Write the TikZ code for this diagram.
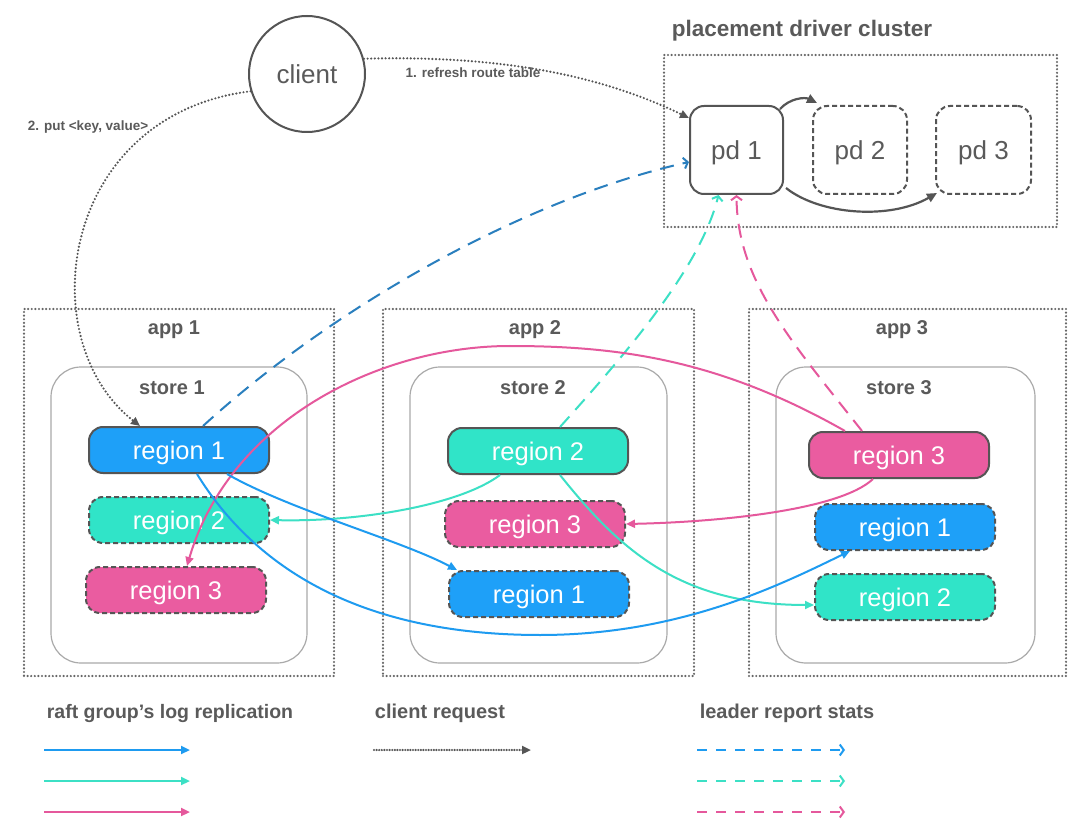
\documentclass[tikz,border=0pt]{standalone}
\usepackage{fontspec}
\setmainfont{Liberation Sans}
\usetikzlibrary{arrows.meta}
\definecolor{tx}{HTML}{5A5A5A}
\definecolor{bd}{HTML}{555555}
\definecolor{dotc}{HTML}{666666}
\definecolor{stc}{HTML}{AAAAAA}
\definecolor{bl}{HTML}{1EA0F8}
\definecolor{tl}{HTML}{30E4C8}
\definecolor{pk}{HTML}{EA5CA0}
\definecolor{blA}{HTML}{1E9BF0}
\definecolor{tlA}{HTML}{3CE0C5}
\definecolor{pkA}{HTML}{E5589C}
\definecolor{dblA}{HTML}{2A7FBE}
\tikzset{
  dotline/.style={line width=2.4pt, dash pattern=on 0pt off 3.6pt, line cap=round},
  dotbox/.style={draw=dotc, dotline, inner sep=0pt},
  storebox/.style={draw=stc, line width=1.2pt, rounded corners=30pt, inner sep=0pt, minimum width=256pt, minimum height=296pt},
  pdbox/.style={draw=bd, line width=2pt, rounded corners=14pt, inner sep=0pt, minimum width=93pt, minimum height=88pt, text=tx, text depth=0pt, font=\fontsize{26}{30}\selectfont},
  region/.style={line width=2pt, rounded corners=14pt, inner sep=0pt, minimum width=180pt, minimum height=46pt, text=white, text depth=0pt, font=\fontsize{25.5}{28}\selectfont},
  leader/.style={region, draw=bd},
  follower/.style={region, draw=bd, dash pattern=on 5pt off 3pt},
  lbl/.style={text=tx, inner sep=0pt, font=\bfseries\fontsize{20}{24}\selectfont},
  small/.style={text=tx, inner sep=0pt, font=\bfseries\fontsize{13.5}{16}\selectfont},
  repl/.style={line width=2pt, -{Triangle[length=9pt,width=8pt]}},
  report/.style={line width=2pt, dash pattern=on 14pt off 9pt, -{Straight Barb[length=4pt,width=11pt,line width=2pt]}},
  req/.style={draw=bd, dotline, -{Triangle[length=9pt,width=8pt]}},
  pdarr/.style={draw=bd, line width=2.2pt, -{Triangle[length=10pt,width=9pt]}}
}
\begin{document}
\begin{tikzpicture}[x=1pt,y=-1pt]
\useasboundingbox[fill=white] (0,0) rectangle (1080,829);

% client
\node[circle, draw=bd, line width=2pt, minimum size=116pt, inner sep=0pt, text=tx, font=\fontsize{26}{30}\selectfont] (client) at (307,74) {client};
\node[small] (lref) at (473,73) {1. refresh route table};
\node[small] (lput) at (88,127) {2. put <key, value>};

% placement driver cluster
\node[lbl, font=\bfseries\fontsize{22.5}{26}\selectfont] (pdt) at (802,31) {placement driver cluster};
\node[dotbox, minimum width=393pt, minimum height=172pt] (pdc) at (860.5,141) {};
\node[pdbox] (pd1) at (736.5,150) {pd 1};
\node[pdbox, dash pattern=on 5pt off 3pt, minimum width=94pt] (pd2) at (860,150) {pd 2};
\node[pdbox, dash pattern=on 5pt off 3pt, minimum width=95pt] (pd3) at (983.5,150) {pd 3};

% apps
\node[dotbox, minimum width=310pt, minimum height=367pt] (app1) at (179,492.5) {};
\node[dotbox, minimum width=311pt, minimum height=367pt] (app2) at (538.5,492.5) {};
\node[dotbox, minimum width=317pt, minimum height=367pt] (app3) at (907.5,492.5) {};
\node[lbl] (app1t) at (174,330) {app 1};
\node[lbl] (app2t) at (535,330) {app 2};
\node[lbl] (app3t) at (902,330) {app 3};

% stores
\node[storebox] (st1) at (179,515) {};
\node[storebox, minimum width=257pt] (st2) at (538.5,515) {};
\node[storebox, minimum width=259pt] (st3) at (905.5,515) {};
\node[lbl] (st1t) at (172,388) {store 1};
\node[lbl] (st2t) at (533,388) {store 2};
\node[lbl] (st3t) at (899,388) {store 3};

% regions
\node[leader, fill=bl] (r11) at (179,450) {region 1};
\node[follower, fill=tl] (r12) at (179,520) {region 2};
\node[follower, fill=pk] (r13) at (176,590) {region 3};
\node[leader, fill=tl] (r22) at (538,451) {region 2};
\node[follower, fill=pk] (r32) at (535,524) {region 3};
\node[follower, fill=bl] (r21) at (539,594) {region 1};
\node[leader, fill=pk] (r33) at (899,455) {region 3};
\node[follower, fill=bl] (r31) at (905,527) {region 1};
\node[follower, fill=tl] (r23) at (905,597) {region 2};

% client requests
\draw[req] (client.15) .. controls (500,55) and (600,75) .. ([yshift=32pt]pd1.west);
\draw[req] (client.197) .. controls (60,115) and (30,340) .. ([xshift=-39pt]r11.north);

% pd replication
\draw[pdarr] ([shift={(-4pt,-4pt)}]pd1.north east) .. controls (790,98) and (805,97) .. ([shift={(5pt,2pt)}]pd2.north west);
\draw[pdarr] ([shift={(2pt,7pt)}]pd1.south east) .. controls (820,215) and (890,220) .. ([shift={(2pt,2pt)}]pd3.south west);

% leader report stats
\draw[report, draw=dblA] ([xshift=24pt]r11.north) .. controls (330,310) and (520,200) .. ([yshift=-12pt]pd1.west);
\draw[report, draw=tlA] ([xshift=22pt]r22.north) .. controls (620,360) and (700,270) .. ([xshift=-18pt]pd1.south);
\draw[report, draw=pkA] ([xshift=-37pt]r33.north) .. controls (790,340) and (737,280) .. (pd1.south);

% raft log replication
\draw[repl, draw=pkA] ([xshift=-54pt]r33.north) .. controls (720,360) and (620,346) .. (510,346) .. controls (380,346) and (230,420) .. ([xshift=11pt]r13.north);
\draw[repl, draw=pkA] ([xshift=-26pt]r33.south) .. controls (840,510) and (720,522) .. (r32.east);
\draw[repl, draw=tlA] ([xshift=-38pt]r22.south) .. controls (460,505) and (360,522) .. (r12.east);
\draw[repl, draw=tlA] ([xshift=22pt]r22.south) .. controls (620,550) and (680,605) .. ([yshift=-8pt]r23.west);
\draw[repl, draw=blA] ([xshift=48pt]r11.south) .. controls (290,510) and (400,540) .. ([xshift=9pt]r21.north west);
\draw[repl, draw=blA] ([xshift=18pt]r11.south) .. controls (250,560) and (350,635) .. (540,635) .. controls (680,635) and (780,585) .. ([xshift=-55pt]r31.south);

% legend
\node[lbl, font=\bfseries\fontsize{19.5}{24}\selectfont] (lg1) at (170,713) {raft group’s log replication};
\node[lbl] (lg2) at (440,713) {client request};
\node[lbl] (lg3) at (787,713) {leader report stats};
\coordinate (a1) at (44,750); \coordinate (b1) at (190,750);
\coordinate (a2) at (44,781); \coordinate (b2) at (190,781);
\coordinate (a3) at (44,812); \coordinate (b3) at (190,812);
\coordinate (c1) at (374,750); \coordinate (d1) at (531,750);
\coordinate (e1) at (697,750); \coordinate (f1) at (845,750);
\coordinate (e2) at (697,781); \coordinate (f2) at (845,781);
\coordinate (e3) at (697,812); \coordinate (f3) at (845,812);
\draw[repl, line width=2.6pt, draw=blA] (a1) -- (b1);
\draw[repl, line width=2.6pt, draw=tlA] (a2) -- (b2);
\draw[repl, line width=2.6pt, draw=pkA] (a3) -- (b3);
\draw[req, dash pattern=on 0pt off 2.6pt] (c1) -- (d1);
\draw[report, dash pattern=on 10pt off 9pt, draw=blA] (e1) -- (f1);
\draw[report, dash pattern=on 10pt off 9pt, draw=tlA] (e2) -- (f2);
\draw[report, dash pattern=on 10pt off 9pt, draw=pkA] (e3) -- (f3);
\end{tikzpicture}
\end{document}
